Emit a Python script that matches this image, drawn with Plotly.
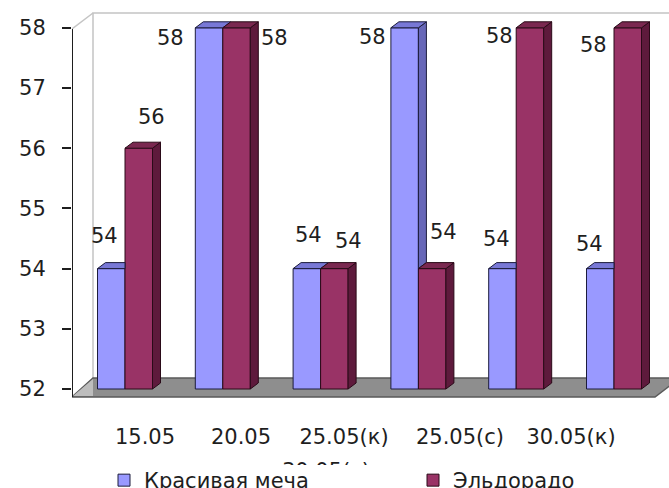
import plotly.graph_objects as go

# ---- data ---------------------------------------------------------------
categories = ["15.05", "20.05", "25.05(к)", "25.05(с)", "30.05(к)", "30.05(с)"]
krasivaya_mecha = [54, 58, 54, 58, 54, 54]
eldorado = [56, 58, 54, 54, 58, 58]
series_names = ["Красивая меча", "Эльдорадо"]
y_ticks = [52, 53, 54, 55, 56, 57, 58]

# ---- projected 3-D box geometry (screen pixels) -------------------------
W, H = 669, 488
MARGIN_L, MARGIN_T = 72, 11
PLOT_BOTTOM = 398
GX0, GDX = 125.0, 97.8      # first group centre, group pitch
PY_BASE, PY_UNIT = 389.0, 60.2  # baseline (52) and pixels per unit
BASE = 52


def X(px):
    return (px - GX0) / GDX


def Y(py):
    return BASE + (PY_BASE - py) / PY_UNIT


bar_w = 27.5 / GDX
dep_x = 8 / GDX
dep_y = 6 / PY_UNIT

FONT = "DejaVu Sans, Arial, sans-serif"
FS = 21
TXT = "#1e1e1e"
BLUE = dict(front="#9999FF", side="#6767B8", top="#7878D6", edge="#1c1c3c")
MAROON = dict(front="#993366", side="#5E1A3C", top="#7A2850", edge="#2a0a18")

fig = go.Figure()

# front faces
for vals, name, col, off, leg in [(krasivaya_mecha, series_names[0], BLUE, -bar_w, "legend"),
                                  (eldorado, series_names[1], MAROON, 0.0, "legend2")]:
    fig.add_trace(go.Bar(
        x=list(range(len(categories))), y=[v - BASE for v in vals], base=BASE,
        width=bar_w, offset=off, name=name, legend=leg,
        marker=dict(color=col["front"], line=dict(color=col["edge"], width=1)),
        hoverinfo="skip",
    ))


def poly_trace(polys, fill, edge):
    xs, ys = [], []
    for p in polys:
        for (px, py) in p + [p[0]]:
            xs.append(px)
            ys.append(py)
        xs.append(None)
        ys.append(None)
    return go.Scatter(x=xs, y=ys, mode="lines", fill="toself", fillcolor=fill,
                      line=dict(color=edge, width=1), showlegend=False,
                      hoverinfo="skip")


blue_tops, blue_sides, mar_tops, mar_sides = [], [], [], []
for i, (hb, hm) in enumerate(zip(krasivaya_mecha, eldorado)):
    a, m, r = i - bar_w, i, i + bar_w
    if hm > hb:   # right part of the top is hidden behind the taller neighbour
        blue_tops.append([(a, hb), (m, hb), (m, hb + dep_y), (a + dep_x, hb + dep_y)])
    else:
        blue_tops.append([(a, hb), (m, hb), (m + dep_x, hb + dep_y), (a + dep_x, hb + dep_y)])
    if hb > hm:   # visible strip of the side above the neighbour
        blue_sides.append([(m, hm), (m, hb), (m + dep_x, hb + dep_y), (m + dep_x, hm + dep_y)])
    mar_tops.append([(m, hm), (r, hm), (r + dep_x, hm + dep_y), (m + dep_x, hm + dep_y)])
    mar_sides.append([(r, BASE), (r, hm), (r + dep_x, hm + dep_y), (r + dep_x, BASE + dep_y)])

fig.add_trace(poly_trace(blue_sides, BLUE["side"], BLUE["edge"]))
fig.add_trace(poly_trace(blue_tops, BLUE["top"], BLUE["edge"]))
fig.add_trace(poly_trace(mar_sides, MAROON["side"], MAROON["edge"]))
fig.add_trace(poly_trace(mar_tops, MAROON["top"], MAROON["edge"]))

# ---- value labels --------------------------------------------------------
blue_lbl_off = [(-7, -33), (-39, 10), (2, -34), (-32, 9), (-6, -30), (-11, -25)]
mar_lbl_off = [(13, -31), (38, 10), (14, -28), (11, -37), (-30, 8), (-34, 17)]
annotations = []
for vals, offs, shift in [(krasivaya_mecha, blue_lbl_off, -bar_w / 2),
                          (eldorado, mar_lbl_off, bar_w / 2)]:
    for i, (v, (dx, dy)) in enumerate(zip(vals, offs)):
        annotations.append(dict(x=i + shift, y=v, text=str(v), showarrow=False,
                                xshift=dx, yshift=-dy,
                                font=dict(family=FONT, size=FS, color=TXT)))

# ---- category labels (second, clipped strip below the floor) ------------
lbl_px = [145, 241, 344, 460, 571, 326]
lbl_row = [14, 14, 14, 14, 14, 48]
fig.add_trace(go.Scatter(
    x=[X(p) for p in lbl_px], y=lbl_row, text=categories, mode="text",
    textposition="middle center", cliponaxis=True,
    textfont=dict(family=FONT, size=FS, color=TXT),
    xaxis="x2", yaxis="y2", showlegend=False, hoverinfo="skip",
))

# ---- walls, floor and value axis line ------------------------------------
WALL = "#c4c4c4"
shapes = [
    # back wall outline
    dict(type="path", layer="below",
         path=f"M {X(93)},{Y(378)} L {X(93)},{Y(13)} L {X(700)},{Y(13)}",
         line=dict(color=WALL, width=1.5)),
    # left wall top edge
    dict(type="line", layer="below", x0=X(72), y0=Y(29), x1=X(93), y1=Y(13),
         line=dict(color=WALL, width=1.5)),
    # floor
    dict(type="path", layer="below",
         path=(f"M {X(72)},{Y(397)} L {X(93)},{Y(378)} L {X(680)},{Y(378)} "
               f"L {X(655)},{Y(397)} Z"),
         fillcolor="#8e8e8e", line=dict(color="#5a5a5a", width=1.5)),
    dict(type="path", layer="below",
         path=f"M {X(73)},{Y(396)} L {X(93)},{Y(379)} L {X(93)},{Y(396)} Z",
         fillcolor="#bdbdbd", line=dict(width=0)),
    # value axis line
    dict(type="line", layer="above", x0=X(72), y0=Y(397), x1=X(72), y1=Y(29),
         line=dict(color="#1e1e1e", width=2)),
]

paper_h = H - MARGIN_T


def paper_y(py):
    return (H - py) / paper_h


def paper_x(px):
    return (px - MARGIN_L) / (W - MARGIN_L)


legend_common = dict(orientation="h", xanchor="left", yanchor="top",
                     y=paper_y(460), bgcolor="rgba(255,255,255,0)",
                     font=dict(family=FONT, size=FS, color=TXT),
                     itemclick=False, itemdoubleclick=False)

fig.update_layout(
    width=W, height=H,
    margin=dict(l=MARGIN_L, r=0, t=MARGIN_T, b=0, autoexpand=False),
    paper_bgcolor="white", plot_bgcolor="rgba(0,0,0,0)",
    barmode="overlay",
    showlegend=True,
    legend=dict(x=paper_x(104), **legend_common),
    legend2=dict(x=paper_x(413), **legend_common),
    xaxis=dict(range=[X(MARGIN_L), X(W)], domain=[0, 1], visible=False,
               fixedrange=True),
    yaxis=dict(range=[Y(PLOT_BOTTOM), Y(MARGIN_T)],
               domain=[paper_y(PLOT_BOTTOM), 1],
               tickvals=y_ticks, ticktext=[str(t) for t in y_ticks],
               ticks="outside", ticklen=9, tickwidth=1.5, tickcolor="#1e1e1e",
               ticklabelstandoff=12,
               tickfont=dict(family=FONT, size=FS, color=TXT),
               showline=False, showgrid=False, zeroline=False, fixedrange=True),
    xaxis2=dict(range=[X(MARGIN_L), X(W)], domain=[0, 1], anchor="y2",
                visible=False, fixedrange=True),
    yaxis2=dict(range=[40, 0], domain=[paper_y(465), paper_y(425)], anchor="x2",
                visible=False, fixedrange=True),
    shapes=shapes,
    annotations=annotations,
)

fig.write_html("out.html")
